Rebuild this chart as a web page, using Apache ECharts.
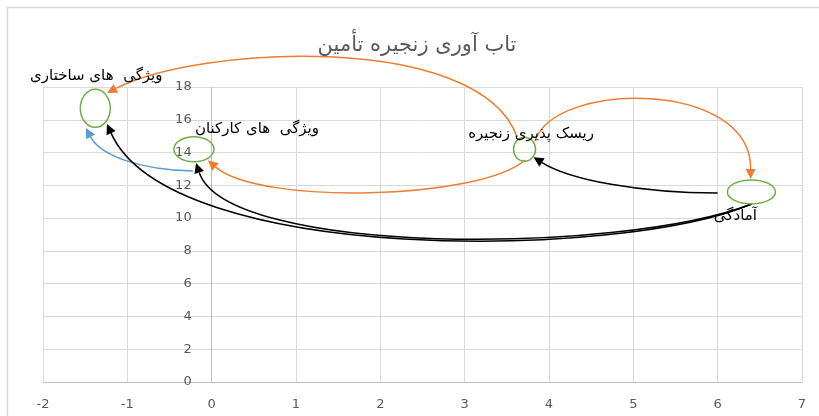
<!DOCTYPE html>
<html>
<head>
<meta charset="utf-8">
<script src="https://cdn.jsdelivr.net/npm/echarts@6/dist/echarts.min.js"></script>
<style>
  html, body { margin: 0; padding: 0; background: #fff; }
  #chart { width: 819px; height: 416px; }
</style>
</head>
<body>
<div id="chart"></div>
<script>
// Factors of supply chain resilience and how they influence each other
const nodeNames = ['ویژگی  های ساختاری', 'ویژگی  های کارکنان', 'ریسک پذیری زنجیره', 'آمادگی'];
const nodeX = [-1.38, -0.21, 3.71, 6.40];
const nodeY = [16.7, 14.2, 14.2, 11.6];

// Influence arrows: source node -> target node
const linkFrom = [2, 2, 2, 1, 3, 3, 3];
const linkTo   = [0, 1, 3, 0, 2, 0, 1];

// Axis tick labels
const xTickLabels = [-2, -1, 0, 1, 2, 3, 4, 5, 6, 7];
const yTickLabels = [0, 2, 4, 6, 8, 10, 12, 14, 16, 18];

const titleText = 'تاب آوری زنجیره تأمین';

// Drawing styles (pixel sizes / offsets)
const GREEN = '#70AD47', ORANGE = '#ED7D31', BLUE = '#5B9BD5', BLACK = '#000000';
const nodeStyle = [
  { rx: 15, ry: 19,   lx: 1,   ly: -32 },
  { rx: 20, ry: 12.5, lx: 63,  ly: -20 },
  { rx: 11, ry: 12,   lx: 6.5, ly: -15 },
  { rx: 24, ry: 12,   lx: -16, ly: 24 }
];
// s: start offset from source centre, e: end offset from target centre,
// c1: first handle relative to start, c2: second handle relative to end
const linkStyle = [
  { color: ORANGE, s: [-7.5, -12.3], c1: [-37, -105], c2: [93, -48], e: [11.7, -15.3] },
  { color: ORANGE, s: [0.5, 10.7],   c1: [-45, 40],   c2: [51, 45],  e: [14, 11] },
  { color: ORANGE, s: [10.5, -8.3],  c1: [20, -61],   c2: [1, -99],  e: [-0.8, -12.9] },
  { color: BLUE,   s: [-0.9, 21.7],  c1: [-54, -1],   c2: [14, 27],  e: [-9.3, 19.7] },
  { color: BLACK,  s: [-33.8, 1.1],  c1: [-78, 0],    c2: [36.5, 22.7], e: [9, 8] },
  { color: BLACK,  s: [0.2, 12.1],   c1: [-132, 56],  c2: [63, 141], e: [11.7, 15.7] },
  { color: BLACK,  s: [0.2, 12.1],   c1: [-132, 51],  c2: [31, 93],  e: [2.1, 13.7] }
];

const FONT = "'DejaVu Sans', 'Noto Sans', sans-serif";
const GRID = { left: 43, right: 17, top: 87, bottom: 34 };
const PLOT_W = 819 - GRID.left - GRID.right;

const nodeData = nodeX.map((x, i) => [x, nodeY[i], i]);
const linkData = linkFrom.map((f, i) => [nodeX[f], nodeY[f], nodeX[linkTo[i]], nodeY[linkTo[i]], i]);

function renderNode(params, api) {
  const i = api.value(2);
  const c = api.coord([api.value(0), api.value(1)]);
  const st = nodeStyle[i];
  return {
    type: 'group',
    children: [
      {
        type: 'ellipse',
        shape: { cx: c[0], cy: c[1], rx: st.rx, ry: st.ry },
        style: { fill: null, stroke: GREEN, lineWidth: 1.5 }
      },
      {
        type: 'text',
        x: c[0] + st.lx,
        y: c[1] + st.ly,
        z2: 10,
        style: {
          text: nodeNames[i],
          fill: '#000',
          font: '15px ' + FONT,
          align: 'center',
          verticalAlign: 'middle'
        }
      }
    ]
  };
}

function renderLink(params, api) {
  const i = api.value(4);
  const a = api.coord([api.value(0), api.value(1)]);
  const b = api.coord([api.value(2), api.value(3)]);
  const st = linkStyle[i];
  const p0 = [a[0] + st.s[0], a[1] + st.s[1]];
  const p3 = [b[0] + st.e[0], b[1] + st.e[1]];
  const p1 = [p0[0] + st.c1[0], p0[1] + st.c1[1]];
  const p2 = [p3[0] + st.c2[0], p3[1] + st.c2[1]];
  // arrow head aligned with the curve's end tangent
  let dx = p3[0] - p2[0], dy = p3[1] - p2[1];
  const len = Math.sqrt(dx * dx + dy * dy) || 1;
  dx /= len; dy /= len;
  const L = 10, W = 5;
  const bx = p3[0] - dx * L, by = p3[1] - dy * L;
  const head = [
    [p3[0], p3[1]],
    [bx - dy * W, by + dx * W],
    [bx + dy * W, by - dx * W]
  ];
  return {
    type: 'group',
    children: [
      {
        type: 'bezierCurve',
        shape: {
          x1: p0[0], y1: p0[1],
          cpx1: p1[0], cpy1: p1[1],
          cpx2: p2[0], cpy2: p2[1],
          x2: bx, y2: by
        },
        style: { fill: null, stroke: st.color, lineWidth: 1.5 }
      },
      {
        type: 'polygon',
        shape: { points: head },
        style: { fill: st.color, stroke: null }
      }
    ]
  };
}

const xMin = xTickLabels[0], xMax = xTickLabels[xTickLabels.length - 1];
// the vertical axis crosses the horizontal one at x = 0
const yAxisOffset = -PLOT_W * (0 - xMin) / (xMax - xMin);

const chart = echarts.init(document.getElementById('chart'), null, { renderer: 'canvas' });
chart.setOption({
  animation: false,
  backgroundColor: '#fff',
  title: {
    text: titleText,
    left: 417,
    top: 35,
    padding: 0,
    textAlign: 'center',
    textStyle: { color: '#595959', fontSize: 21, fontWeight: 'normal', fontFamily: FONT }
  },
  graphic: [
    {
      type: 'rect',
      shape: { x: 7.5, y: 7.5, width: 900, height: 600 },
      style: { fill: null, stroke: '#d9d9d9', lineWidth: 1.5 },
      silent: true,
      z: -10
    }
  ],
  grid: { left: GRID.left, right: GRID.right, top: GRID.top, bottom: GRID.bottom, containLabel: false },
  xAxis: {
    type: 'value',
    min: xMin,
    max: xMax,
    interval: xTickLabels[1] - xTickLabels[0],
    axisLine: { show: true, onZero: false, lineStyle: { color: '#bfbfbf', width: 1 } },
    axisTick: { show: false },
    axisLabel: { color: '#595959', fontSize: 13, fontFamily: FONT, margin: 16 },
    splitLine: { show: true, lineStyle: { color: '#d9d9d9', width: 1 } }
  },
  yAxis: {
    type: 'value',
    position: 'left',
    offset: yAxisOffset,
    min: yTickLabels[0],
    max: yTickLabels[yTickLabels.length - 1],
    interval: yTickLabels[1] - yTickLabels[0],
    axisLine: { show: true, onZero: false, lineStyle: { color: '#bfbfbf', width: 1 } },
    axisTick: { show: false },
    axisLabel: { color: '#595959', fontSize: 13, fontFamily: FONT, margin: 20 },
    splitLine: { show: true, lineStyle: { color: '#d9d9d9', width: 1 } }
  },
  series: [
    {
      type: 'custom',
      name: 'links',
      coordinateSystem: 'cartesian2d',
      clip: false,
      silent: true,
      z: 3,
      renderItem: renderLink,
      data: linkData
    },
    {
      type: 'custom',
      name: 'nodes',
      coordinateSystem: 'cartesian2d',
      clip: false,
      silent: true,
      z: 4,
      renderItem: renderNode,
      data: nodeData
    }
  ]
});
</script>
</body>
</html>
